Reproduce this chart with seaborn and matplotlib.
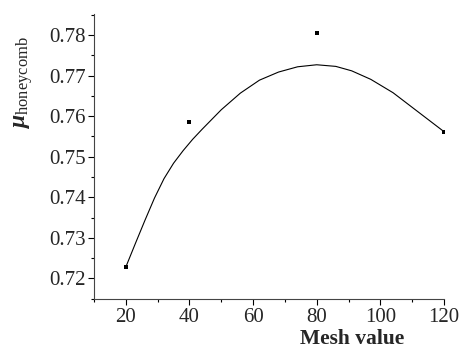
import seaborn as sns
import matplotlib.pyplot as plt
import pandas as pd
from matplotlib.ticker import MultipleLocator

# measured points
mesh = [20, 40, 80, 120]
mu = [0.7229, 0.7585, 0.7806, 0.7562]

# smooth curve
curve_x = [20, 23, 26, 29, 32, 35, 38, 41, 44, 50, 56, 62, 68, 74, 80, 86, 91, 97, 104, 112, 120]
curve_y = [0.7228, 0.7286, 0.7343, 0.7398, 0.7446, 0.7484, 0.7515, 0.7543, 0.7568, 0.7616,
           0.7657, 0.7689, 0.7709, 0.7722, 0.7727, 0.7723, 0.7712, 0.7691, 0.7658, 0.7610, 0.7562]

pts = pd.DataFrame({"mesh": mesh, "mu": mu})
crv = pd.DataFrame({"x": curve_x, "y": curve_y})

sns.set_style("ticks")
plt.rcParams["font.family"] = ["Liberation Serif", "DejaVu Serif"]
plt.rcParams["mathtext.fontset"] = "custom"
plt.rcParams["mathtext.rm"] = "Liberation Serif"
plt.rcParams["mathtext.it"] = "Liberation Serif:italic"
plt.rcParams["mathtext.bf"] = "Liberation Serif:bold"
plt.rcParams["mathtext.bfit"] = "Liberation Serif:bold:italic"

fig = plt.figure(figsize=(4.61, 3.53), dpi=100)
ax = fig.add_axes([0.204, 0.152, 0.759, 0.808])

sns.lineplot(data=crv, x="x", y="y", color="black", linewidth=0.8, ax=ax, sort=False)
sns.scatterplot(data=pts, x="mesh", y="mu", marker="s", s=12, color="black",
                edgecolor="black", linewidth=0, ax=ax, zorder=3)

ax.set_xlim(10, 120)
ax.set_ylim(0.7148, 0.7852)
ax.xaxis.set_minor_locator(MultipleLocator(10))
ax.yaxis.set_minor_locator(MultipleLocator(0.005))
ax.set_xticks([20, 40, 60, 80, 100, 120])
ax.set_xticklabels(["20", "40", "60", "80", "100", "120"])
ax.set_yticks([0.72, 0.73, 0.74, 0.75, 0.76, 0.77, 0.78])
ax.set_yticklabels(["0.72", "0.73", "0.74", "0.75", "0.76", "0.77", "0.78"])

ax.tick_params(axis="both", which="major", length=4, width=0.8, labelsize=15, pad=2, color="black")
ax.tick_params(axis="both", which="minor", length=2.5, width=0.8, color="black")

sns.despine(ax=ax)
for side in ["left", "bottom"]:
    ax.spines[side].set_linewidth(0.8)
    ax.spines[side].set_color("#444444")

ax.set_xlabel("Mesh value", fontsize=15.5, fontweight="bold", labelpad=2)
ax.xaxis.set_label_coords(0.737, -0.105)
ax.set_ylabel(r"$\boldsymbol{\mu}_{\mathrm{honeycomb}}$", fontsize=17, labelpad=2)
ax.yaxis.set_label_coords(-0.17, 0.76)

fig.savefig("out.png", dpi=100)
